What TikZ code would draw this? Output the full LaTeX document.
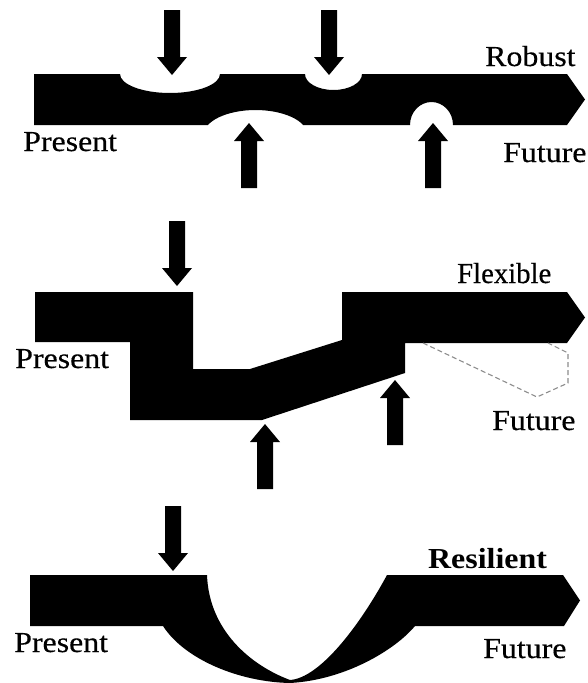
\documentclass[tikz,border=0pt]{standalone}
\usepackage{fontspec}
\setmainfont{Liberation Serif}[FakeStretch=1.1]
\newfontfamily\labfont{Liberation Serif}[FakeStretch=1.1,FakeBold=0.4]
\begin{document}
\begin{tikzpicture}[x=1pt,y=-1pt,
  lab/.style={inner sep=0pt, anchor=base west, font=\fontsize{29}{34}\labfont},
  labbold/.style={inner sep=0pt, anchor=base west, font=\fontsize{29}{34}\rmfamily\bfseries},
  band/.style={fill=black, draw=none},
  ghost/.style={draw=black!45, line width=1.1pt, dash pattern=on 5pt off 3pt},
  arrdown/.pic={\fill (0,0) -- (15,-18) -- (8,-18) -- (8,-65) -- (-8,-65) -- (-8,-18) -- (-15,-18) -- cycle;},
  arrup/.pic={\fill (0,0) -- (15,18) -- (8,18) -- (8,65) -- (-8,65) -- (-8,18) -- (-15,18) -- cycle;}]
\useasboundingbox (0,0) rectangle (587,683);

% ---------- Robust ----------
\fill[band] (34,74) -- (120,74)
  arc[start angle=180, end angle=0, x radius=50, y radius=19]
  -- (305,74)
  arc[start angle=180, end angle=0, x radius=28.5, y radius=16]
  -- (567,74) -- (585,99.5) -- (567,125) -- (453,125)
  arc[start angle=0, end angle=-180, x radius=21.5, y radius=23]
  -- (303.2,125)
  arc[start angle=-23.6, end angle=-156.4, x radius=52, y radius=25]
  -- (34,125) -- cycle;
\pic at (172,75) {arrdown};
\pic at (329,75) {arrdown};
\pic at (249,123) {arrup};
\pic at (433,123) {arrup};
\node[lab] (robust) at (485,66) {Robust};
\node[lab] (present1) at (23,151) {Present};
\node[lab] (future1) at (503,162) {Future};

% ---------- Flexible ----------
\fill[band] (35,292) -- (193,292) -- (193,369) -- (250,369) -- (342,340)
  -- (342,292) -- (567,292) -- (585,317.5) -- (567,343) -- (405,343)
  -- (405,373) -- (262,420) -- (130,420) -- (130,342) -- (35,342) -- cycle;
\draw[ghost] (423,343) -- (537,397) -- (568,383) -- (568,353) -- (548,343);
\pic at (177,286) {arrdown};
\pic at (265,424) {arrup};
\pic at (395,380) {arrup};
\node[lab] (flexible) at (457,283) {\scalebox{0.9}[1]{Flexible}};
\node[lab] (present2) at (15,368) {Present};
\node[lab] (future2) at (492,430) {Future};

% ---------- Resilient ----------
\fill[band] (30,575) -- (207,575)
  .. controls (209,630) and (250,665) .. (290,680)
  .. controls (320,678) and (360,625) .. (387,575)
  -- (563,575) -- (580,600.5) -- (564,626) -- (415,626)
  .. controls (395,650) and (345,680) .. (290,683)
  .. controls (240,682) and (185,660) .. (163,626)
  -- (30,626) -- cycle;
\pic at (173,571) {arrdown};
\node[labbold] (resilient) at (428,568) {Resilient};
\node[lab] (present3) at (14,652) {Present};
\node[lab] (future3) at (483,658) {Future};
\end{tikzpicture}
\end{document}
